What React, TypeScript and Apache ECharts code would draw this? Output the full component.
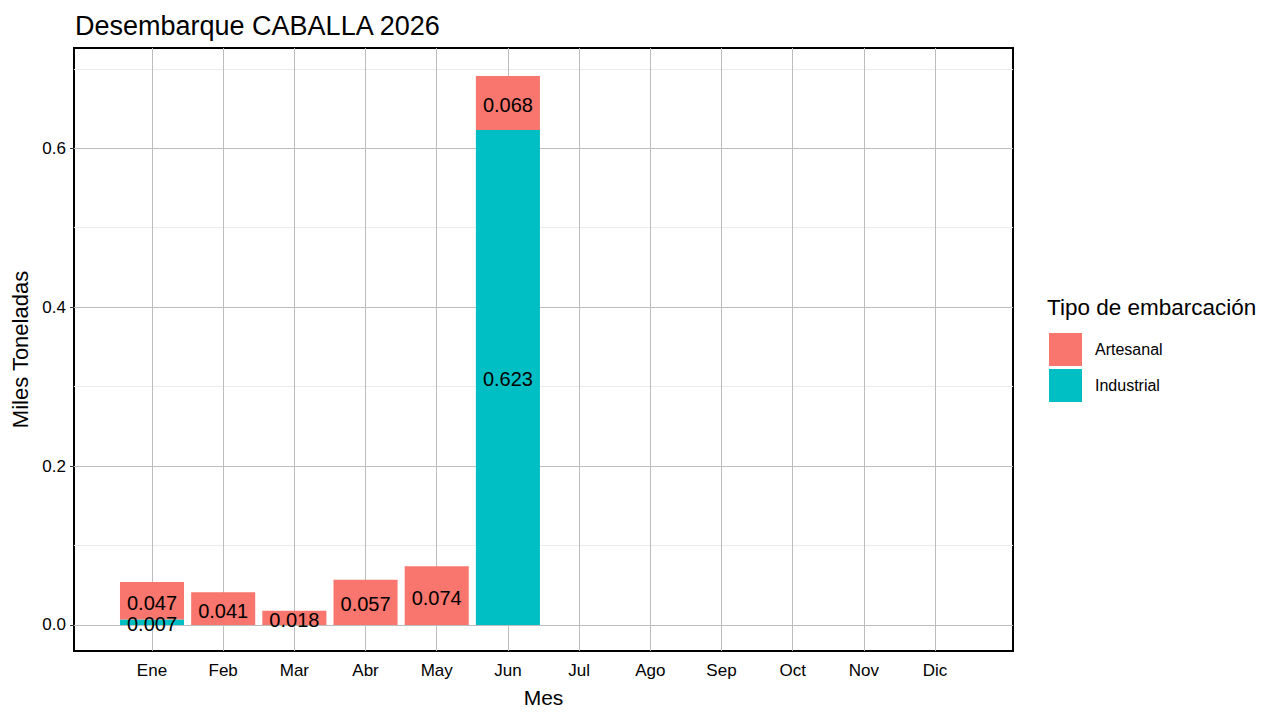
import React, { useEffect, useRef } from "react";
import * as echarts from "echarts";

const months = ["Ene", "Feb", "Mar", "Abr", "May", "Jun", "Jul", "Ago", "Sep", "Oct", "Nov", "Dic"];
const artesanal: (number | null)[] = [0.047, 0.041, 0.018, 0.057, 0.074, 0.068, null, null, null, null, null, null];
const industrial: (number | null)[] = [0.007, null, null, null, null, 0.623, null, null, null, null, null, null];
const yMajor = [0, 0.2, 0.4, 0.6];
const yMinor = [0.1, 0.3, 0.5, 0.7];
const yMin = -0.0328;
const yMax = 0.7262;

const FONT = "Liberation Sans";

export default function App() {
  const ref = useRef<HTMLDivElement>(null);
  useEffect(() => {
    if (!ref.current) return;
    const chart = echarts.init(ref.current, null, { renderer: "svg" });
    const outer = { left: 74, top: 48, width: 939, height: 603 };
    const inner = { left: 116.4, top: 48, width: 854.2, height: 603 };
    const labelCfg = {
      show: true,
      position: "inside",
      fontSize: 20,
      color: "#000",
      fontFamily: FONT,
      offset: [0, 2],
      formatter: (p: any) => (p.value == null ? "" : Number(p.value).toFixed(3)),
    };
    chart.setOption({
      animation: false,
      textStyle: { fontFamily: FONT },
      title: [
        {
          text: "Desembarque CABALLA 2026",
          left: 70,
          top: 7,
          textStyle: { fontSize: 27, fontWeight: "normal", color: "#000", fontFamily: FONT },
        },
        {
          text: "Tipo de embarcación",
          left: 1047,
          top: 296,
          padding: 0,
          textStyle: { fontSize: 22.5, fontWeight: "normal", color: "#000", fontFamily: FONT },
        },
      ],
      legend: {
        orient: "vertical",
        left: 1049,
        top: 333,
        padding: 0,
        itemWidth: 33,
        itemHeight: 33,
        itemGap: 3,
        icon: "rect",
        data: ["Artesanal", "Industrial"],
        textStyle: { fontSize: 16, color: "#000", fontFamily: FONT, padding: [0, 0, 0, 8] },
      },
      grid: [
        { ...outer, show: true, borderColor: "#000", borderWidth: 2, backgroundColor: "#fff", containLabel: false, outerBoundsMode: "none", z: 0 },
        { ...inner, show: false, containLabel: false, outerBoundsMode: "none" },
      ],
      xAxis: [
        { type: "value", gridIndex: 0, min: 0, max: 1, show: false },
        {
          type: "category",
          gridIndex: 1,
          data: months,
          axisLine: { show: false },
          axisTick: { show: true, alignWithLabel: true, length: 4, lineStyle: { color: "#333", width: 1 } },
          axisLabel: { fontSize: 17, color: "#000", margin: 11, fontFamily: FONT },
          splitLine: { show: false },
          name: "Mes",
          nameLocation: "middle",
          nameGap: 36,
          nameTextStyle: { fontSize: 21, color: "#000", fontFamily: FONT },
        },
      ],
      yAxis: [
        {
          type: "value",
          gridIndex: 0,
          min: yMin,
          max: yMax,
          axisLine: { show: false },
          axisTick: { show: true, length: 4, customValues: yMajor, lineStyle: { color: "#333", width: 1 } },
          axisLabel: {
            fontSize: 17,
            color: "#000",
            margin: 8,
            fontFamily: FONT,
            customValues: yMajor,
            formatter: (v: number) => v.toFixed(1),
          },
          splitLine: { show: false },
          name: "Miles Toneladas",
          nameLocation: "middle",
          nameGap: 42,
          nameTextStyle: { fontSize: 22, color: "#000", fontFamily: FONT },
        },
        { type: "value", gridIndex: 1, min: yMin, max: yMax, show: false, splitLine: { show: false } },
      ],
      series: [
        {
          type: "line",
          xAxisIndex: 0,
          yAxisIndex: 0,
          data: [],
          silent: true,
          z: 1,
          markLine: {
            silent: true,
            symbol: "none",
            z: 1,
            label: { show: false },
            animation: false,
            data: [
              ...yMinor.map((v) => ({ yAxis: v, lineStyle: { color: "#ebebeb", width: 1, type: "solid" } })),
              ...yMajor.map((v) => ({ yAxis: v, lineStyle: { color: "#bdbdbd", width: 1, type: "solid" } })),
            ],
          },
        },
        {
          type: "line",
          xAxisIndex: 1,
          yAxisIndex: 1,
          data: [],
          silent: true,
          z: 1,
          markLine: {
            silent: true,
            symbol: "none",
            z: 1,
            label: { show: false },
            animation: false,
            data: months.map((m) => ({ xAxis: m, lineStyle: { color: "#bdbdbd", width: 1, type: "solid" } })),
          },
        },
        {
          name: "Industrial",
          type: "bar",
          stack: "total",
          xAxisIndex: 1,
          yAxisIndex: 1,
          barWidth: "90%",
          z: 3,
          itemStyle: { color: "#00BFC4" },
          label: labelCfg,
          data: industrial,
        },
        {
          name: "Artesanal",
          type: "bar",
          stack: "total",
          xAxisIndex: 1,
          yAxisIndex: 1,
          barWidth: "90%",
          z: 3,
          itemStyle: { color: "#F8766D" },
          label: labelCfg,
          data: artesanal,
        },
      ],
    });
    return () => chart.dispose();
  }, []);
  return <div ref={ref} style={{ position: "fixed", left: 0, top: 0, width: 1280, height: 720, background: "#fff" }} />;
}
